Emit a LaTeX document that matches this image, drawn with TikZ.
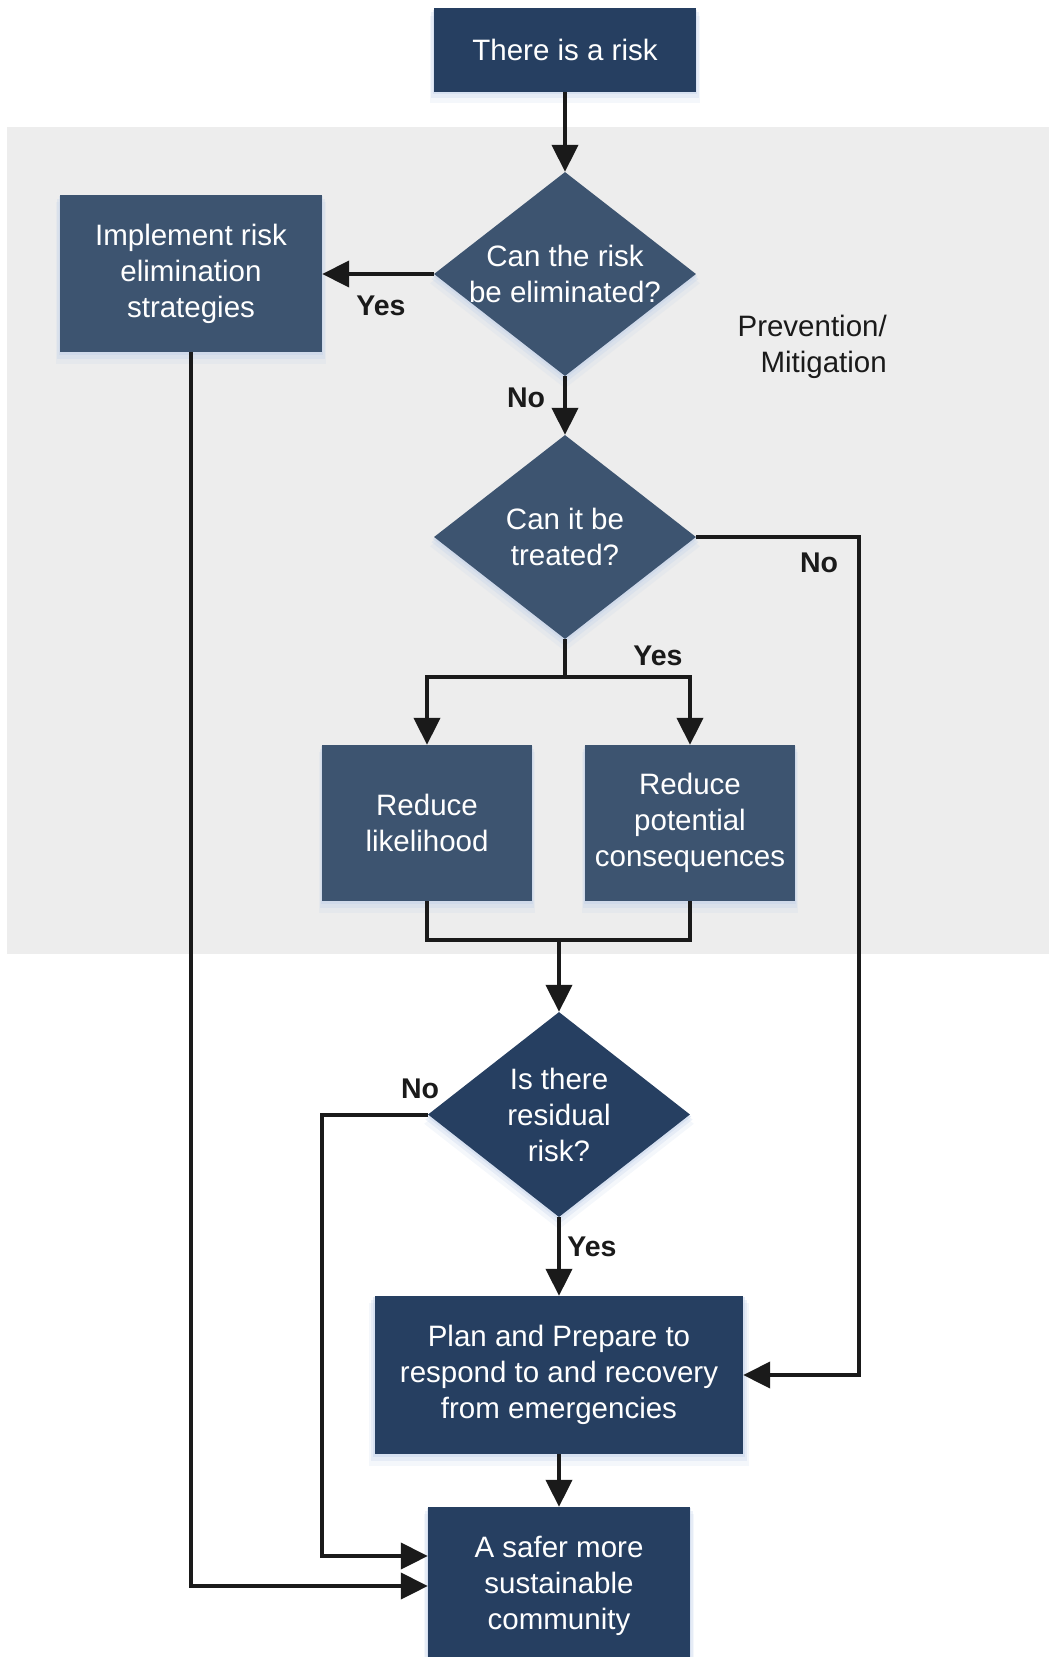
\documentclass[tikz,border=0pt]{standalone}
\usepackage{fontspec}
\setmainfont{Liberation Sans}
\usetikzlibrary{shapes.geometric,arrows.meta,shadows,calc}
\definecolor{navy}{HTML}{263F61}
\definecolor{slate}{HTML}{3D5470}
\definecolor{band}{HTML}{EDEDED}
\definecolor{glow}{HTML}{C4D3EA}
\definecolor{ink}{HTML}{1A1A1A}

\begin{document}
\begin{tikzpicture}[x=1pt,y=-1pt,
  txt/.style={font=\fontsize{29.5}{36}\selectfont, text=white, align=center},
  soft/.style={
    drop shadow={shadow xshift=0pt, shadow yshift=-2pt, shadow scale=1.01, fill=glow, opacity=0.45},
    drop shadow={shadow xshift=0pt, shadow yshift=-5pt, shadow scale=1.02, fill=glow, opacity=0.3},
    drop shadow={shadow xshift=0pt, shadow yshift=-9pt, shadow scale=1.03, fill=glow, opacity=0.18}},
  box/.style={rectangle, draw=none, inner sep=0pt, txt, soft},
  dark/.style={box, fill=navy},
  light/.style={box, fill=slate},
  dec/.style={diamond, draw=none, inner sep=0pt, soft, minimum width=262pt, minimum height=204pt},
  lab/.style={font=\fontsize{28.5}{34}\selectfont\bfseries, text=ink, inner sep=0pt},
  note/.style={font=\fontsize{29.5}{36}\selectfont, text=ink, align=right, inner sep=0pt},
  wire/.style={line width=4pt, draw=ink},
  flow/.style={wire, -{Triangle[length=27pt,width=26pt]}},
]
\useasboundingbox (0,0) rectangle (1049,1657);
\clip (0,0) rectangle (1049,1657);

% prevention / mitigation zone
\fill[band] (7,127) rectangle (1049,954);
\node[note, anchor=east] (zone) at (887,347) {Prevention/\\Mitigation};

% steps and decisions
\node[dark, minimum width=262pt, minimum height=84pt] (risk) at (565,50) {There is a risk};
\node[light, minimum width=262pt, minimum height=157pt] (impl) at (191,273.5) {Implement risk\\elimination\\strategies};
\node[dec, fill=slate] (d1) at (565,274) {};
\node[txt] at (d1) {Can the risk\\be eliminated?};
\node[dec, fill=slate] (d2) at (565,537) {};
\node[txt] at (d2) {Can it be\\treated?};
\node[light, minimum width=210pt, minimum height=156pt] (lik) at (427,823) {Reduce\\likelihood};
\node[light, minimum width=210pt, minimum height=156pt] (cons) at (690,823) {Reduce\\potential\\consequences};
\node[dec, fill=navy, minimum height=205pt] (d3) at (559,1114.5) {};
\node[txt] at (d3) {Is there\\residual\\risk?};
\node[dark, minimum width=368pt, minimum height=158pt] (plan) at (559,1375) {Plan and Prepare to\\respond to and recovery\\from emergencies};
\node[dark, minimum width=262pt, minimum height=158pt] (safer) at (559,1586) {A safer more\\sustainable\\community};

% routing points
\coordinate (nr) at (859,537);
\coordinate (split) at (565,677);
\coordinate (merge) at (559,940);
\coordinate (nl) at (322,1114.5);

% connectors
\draw[flow] (risk.south) -- (d1.north);
\draw[flow] (d1.west) -- (d1.west -| impl.east);
\draw[flow] (d1.south) -- (d2.north);
\draw[flow] (d2.east) -- (nr) |- (plan.east);
\draw[wire] (d2.south) -- (split);
\draw[flow] (split) -| (lik.north);
\draw[flow] (split) -| (cons.north);
\draw[wire] (lik.south) -- (lik.south |- merge) -- (cons.south |- merge) -- (cons.south);
\draw[flow] (merge) -- (d3.north);
\draw[flow] (d3.south) -- (plan.north);
\draw[flow] (plan.south) -- (safer.north);
\draw[flow] (d3.west) -- (nl) |- ($(safer.west)+(0,-30)$);
\draw[flow] (impl.south) |- (safer.west);

% branch labels
\node[lab] at (381,306) {Yes};
\node[lab] at (526,398) {No};
\node[lab] at (819,563) {No};
\node[lab] at (658,656) {Yes};
\node[lab] at (420,1089) {No};
\node[lab] at (592,1247) {Yes};
\end{tikzpicture}
\end{document}
